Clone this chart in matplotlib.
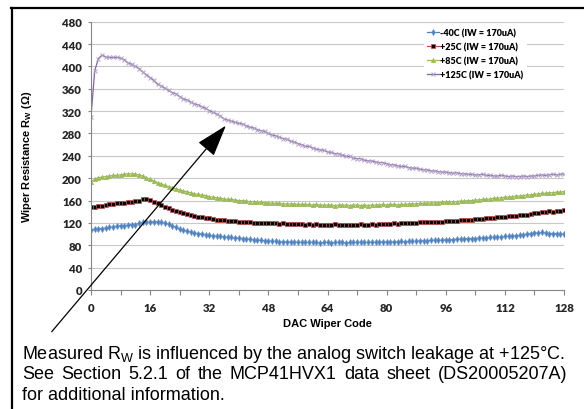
import numpy as np
import matplotlib
matplotlib.use("Agg")
import matplotlib.pyplot as plt
from matplotlib.lines import Line2D

plt.rcParams['mathtext.default'] = 'regular'

# DAC wiper codes 0..128
codes = list(range(129))

# -40C (IW = 170uA)
rw_m40 = [107, 109, 110, 110, 111, 112, 113, 114, 115, 115, 116, 117, 117, 119, 121, 121,
          122, 122, 122, 121, 120, 118, 115, 112, 109, 107, 105, 104, 102, 101, 100, 99,
          98, 97, 96, 96, 95, 94, 94, 93, 93, 92, 91, 91, 90, 89, 89, 88,
          88, 87, 87, 86, 86, 86, 86, 85, 86, 85, 85, 85, 85, 85, 84, 85,
          85, 84, 85, 85, 85, 84, 85, 85, 85, 85, 85, 85, 86, 85, 86, 86,
          86, 86, 86, 86, 87, 86, 87, 87, 87, 88, 88, 88, 89, 89, 89, 89,
          90, 90, 90, 91, 91, 91, 92, 92, 92, 93, 93, 93, 94, 94, 95, 94,
          96, 96, 97, 97, 98, 99, 100, 101, 102, 102, 103, 102, 101, 101, 101, 100,
          100]

# +25C (IW = 170uA)
rw_25 = [148, 149, 150, 151, 152, 153, 154, 155, 156, 156, 157, 158, 159, 160, 162, 162,
         161, 158, 155, 152, 149, 146, 143, 141, 139, 137, 136, 134, 133, 131, 130, 129,
         128, 127, 126, 126, 125, 124, 123, 123, 122, 122, 121, 121, 120, 120, 120, 119,
         119, 119, 119, 118, 119, 118, 118, 118, 118, 118, 117, 118, 117, 118, 117, 117,
         117, 117, 118, 116, 117, 116, 117, 117, 117, 118, 117, 117, 118, 117, 118, 118,
         118, 118, 119, 118, 119, 119, 119, 120, 120, 121, 121, 121, 122, 122, 122, 122,
         123, 123, 124, 124, 125, 125, 126, 126, 127, 127, 127, 128, 129, 129, 130, 131,
         131, 132, 132, 133, 134, 134, 135, 136, 137, 138, 139, 140, 141, 140, 142, 141,
         143]

# +85C (IW = 170uA)
rw_85 = [194, 198, 201, 202, 203, 204, 205, 205, 206, 207, 208, 208, 207, 206, 204, 201,
         198, 195, 192, 190, 187, 185, 183, 181, 179, 177, 176, 174, 172, 171, 170, 169,
         167, 166, 165, 164, 163, 162, 162, 161, 160, 160, 159, 158, 158, 157, 157, 156,
         156, 155, 155, 155, 154, 154, 154, 154, 153, 153, 153, 153, 152, 153, 152, 152,
         152, 152, 151, 152, 152, 152, 151, 152, 152, 151, 152, 151, 152, 152, 152, 153,
         152, 153, 153, 152, 153, 153, 154, 154, 154, 155, 155, 155, 156, 156, 156, 157,
         157, 158, 158, 158, 159, 159, 160, 160, 161, 161, 162, 162, 163, 164, 164, 165,
         166, 166, 167, 168, 168, 169, 170, 170, 171, 172, 173, 173, 174, 174, 175, 175,
         176]

# +125C (IW = 170uA)
rw_125 = [310, 392, 414, 420, 417, 416, 416, 416, 415, 412, 406, 404, 400, 396, 390, 385,
          380, 375, 368, 365, 361, 357, 353, 351, 346, 342, 340, 336, 333, 331, 328, 325,
          321, 318, 315, 311, 306, 304, 302, 300, 298, 297, 294, 291, 290, 287, 285, 284,
          280, 277, 276, 273, 271, 270, 266, 265, 262, 260, 257, 257, 254, 252, 251, 250,
          247, 246, 244, 244, 241, 239, 239, 236, 235, 235, 232, 231, 231, 229, 228, 228,
          226, 224, 224, 222, 221, 221, 219, 218, 218, 216, 215, 215, 213, 213, 212, 211,
          211, 210, 209, 210, 208, 208, 207, 207, 206, 206, 207, 205, 205, 204, 204, 205,
          204, 203, 204, 203, 203, 204, 203, 204, 204, 205, 206, 205, 206, 207, 206, 207,
          208]

series_labels = ['-40C (IW = 170uA)', '+25C (IW = 170uA)',
                 '+85C (IW = 170uA)', '+125C (IW = 170uA)']

fig = plt.figure(figsize=(5.84, 4.10), dpi=100)
ax = fig.add_axes([91 / 584, 1 - 291 / 410, 473 / 584, (291 - 22.7) / 410])

ax.plot(codes, rw_m40, color='#4f81bd', lw=0.9, marker='d', ms=3.2,
        mec='#6f9bd3', mfc='#4f81bd', mew=0.4, label=series_labels[0])
ax.plot(codes, rw_25, color='#c0504d', lw=0.9, marker='s', ms=3.3,
        mfc='black', mec='#c0504d', mew=0.5, label=series_labels[1])
ax.plot(codes, rw_85, color='#9bbb59', lw=0.9, marker='^', ms=3.3,
        mfc='#9bbb59', mec='#9bbb59', mew=0.3, label=series_labels[2])
ax.plot(codes, rw_125, color='#8064a2', lw=0.9, marker='x', ms=3.0,
        mec='#b3a2c7', mew=0.7, label=series_labels[3])

ax.set_xlim(0, 128)
ax.set_ylim(0, 480)
ax.set_xticks(np.arange(0, 129, 16))
ax.set_xticks(np.arange(0, 129, 8), minor=True)
ax.set_yticks(np.arange(0, 481, 40))
ax.yaxis.grid(True, color='#c8c8c8', lw=0.8)
ax.set_axisbelow(True)
for s in ['top', 'right']:
    ax.spines[s].set_visible(False)
for s in ['left', 'bottom']:
    ax.spines[s].set_color('#868686')
    ax.spines[s].set_linewidth(0.8)
ax.tick_params(axis='x', which='both', length=3.5, color='#868686', width=0.8,
               pad=5.5)
ax.tick_params(axis='y', length=2.5, color='#868686', width=0.8, pad=4)
for lab in ax.get_xticklabels() + ax.get_yticklabels():
    lab.set_fontfamily('Lato')
    lab.set_fontweight('heavy')
    lab.set_fontsize(8.2)
    lab.set_color('#262626')

ax.set_xlabel('DAC Wiper Code', fontfamily='Liberation Sans', fontweight='bold',
              fontsize=8)
ax.xaxis.set_label_coords(0.5, -0.105)
ax.set_ylabel(r'Wiper Resistance R$_{W}$ ($\Omega$)', fontfamily='Liberation Sans',
              fontweight='bold', fontsize=8)
ax.yaxis.set_label_coords(-0.12, 0.5)

leg = ax.legend(loc='upper right', bbox_to_anchor=(0.922, 0.99), borderaxespad=0,
                prop={'family': 'Lato', 'weight': 'heavy', 'size': 6.5},
                handlelength=1.3, handletextpad=0.15, labelspacing=0.55,
                frameon=True, fancybox=False, framealpha=1)
leg.get_frame().set_edgecolor('none')

# arrow pointing at the +125C curve
ax.annotate('', xy=(36.5, 294), xycoords='data',
            xytext=(51.7, 410 - 332.7), textcoords='figure pixels',
            arrowprops=dict(arrowstyle='-|>,head_length=2.0,head_width=0.65',
                            color='black', lw=0.9, shrinkA=0, shrinkB=0),
            annotation_clip=False)

# note below chart
note_font = dict(fontfamily='Liberation Sans', fontsize=13, va='baseline', ha='left')
x0, x1 = 22, 567
fig.text(x0 / 584, 1 - 359 / 410,
         r'Measured R$_{W}$ is influenced by the analog switch leakage at +125°C.',
         **note_font)
fig.text(x0 / 584, 1 - 400 / 410, 'for additional information.', **note_font)

# second line is justified in the original
words = 'See Section 5.2.1 of the MCP41HVX1 data sheet (DS20005207A)'.split()
renderer = fig.canvas.get_renderer()
word_texts = [fig.text(0, 1 - 379.5 / 410, w, **note_font) for w in words]
widths = [t.get_window_extent(renderer).width for t in word_texts]
gap = (x1 - x0 - sum(widths)) / (len(words) - 1)
xpos = x0
for t, w in zip(word_texts, widths):
    t.set_x(xpos / 584)
    xpos += w + gap

# frame lines (top and left)
fig.add_artist(Line2D([11 / 584, 1], [1 - 8.5 / 410, 1 - 8.5 / 410],
                      color='black', lw=1.6, transform=fig.transFigure))
fig.add_artist(Line2D([12 / 584, 12 / 584], [0, 1 - 8.5 / 410],
                      color='black', lw=1.6, transform=fig.transFigure))

fig.savefig('out.png', dpi=100)
